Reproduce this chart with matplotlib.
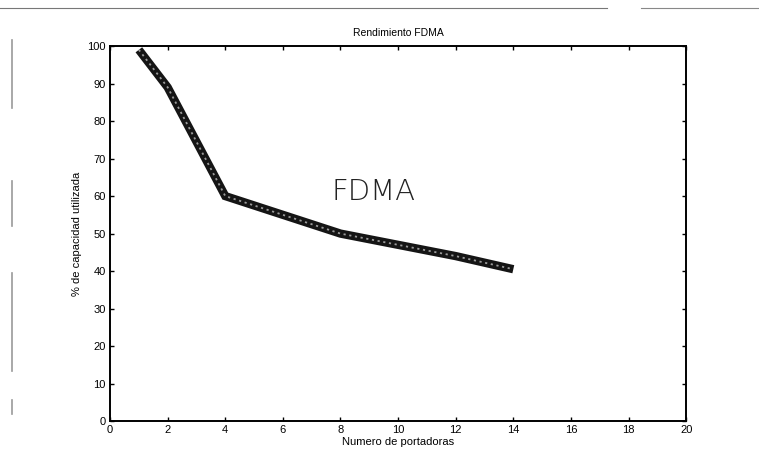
import matplotlib
matplotlib.use("Agg")
import matplotlib.pyplot as plt
from matplotlib.lines import Line2D

carriers = [1, 2, 4, 6, 8, 10, 12, 14]
capacity = [99, 89, 60, 55, 50, 47, 44, 40.5]
xticks = [0, 2, 4, 6, 8, 10, 12, 14, 16, 18, 20]
xticklabels = ["0", "2", "4", "6", "8", "10", "12", "14", "16", "18", "20"]
yticks = [0, 10, 20, 30, 40, 50, 60, 70, 80, 90, 100]

plt.rcParams['font.family'] = ['Liberation Sans', 'DejaVu Sans']

fig = plt.figure(figsize=(7.59, 4.70), dpi=100)
ax = fig.add_axes([0.145, 0.104, 0.759, 0.798])

ax.plot(carriers, capacity, color="#151515", linewidth=6, solid_capstyle="butt",
        solid_joinstyle="miter")
ax.plot(carriers, capacity, color="#9a9a9a", linewidth=1.3, linestyle=(0, (1.2, 2.0)))

ax.set_xlim(0, 20)
ax.set_ylim(0, 100)
ax.set_xticks(xticks)
ax.set_xticklabels(xticklabels)
ax.set_yticks(yticks)
ax.tick_params(direction="in", length=3, width=1, labelsize=8, top=True, right=True, pad=3)
for s in ax.spines.values():
    s.set_linewidth(1.4)

ax.set_title("Rendimiento FDMA", fontsize=7.5, pad=7)
ax.set_xlabel("Numero de portadoras", fontsize=8, labelpad=1)
ax.set_ylabel("% de capacidad utilizada", fontsize=8, labelpad=4)

ax.text(9.15, 61.2, "FDMA", fontsize=21, fontfamily="DejaVu Sans", fontweight="light",
        ha="center", va="center", color="#222222")

# scan artifacts: top rule and left margin marks
fig.add_artist(Line2D([0.0, 0.80], [0.983, 0.983], color="#777777", linewidth=0.8,
                      transform=fig.transFigure))
fig.add_artist(Line2D([0.845, 1.0], [0.983, 0.983], color="#888888", linewidth=0.8,
                      transform=fig.transFigure))
for y0, y1 in [(0.77, 0.915), (0.52, 0.615), (0.21, 0.42), (0.12, 0.15)]:
    fig.add_artist(Line2D([0.016, 0.016], [y0, y1], color="#999999", linewidth=1.2,
                          transform=fig.transFigure))

fig.savefig("out.png", dpi=100)
